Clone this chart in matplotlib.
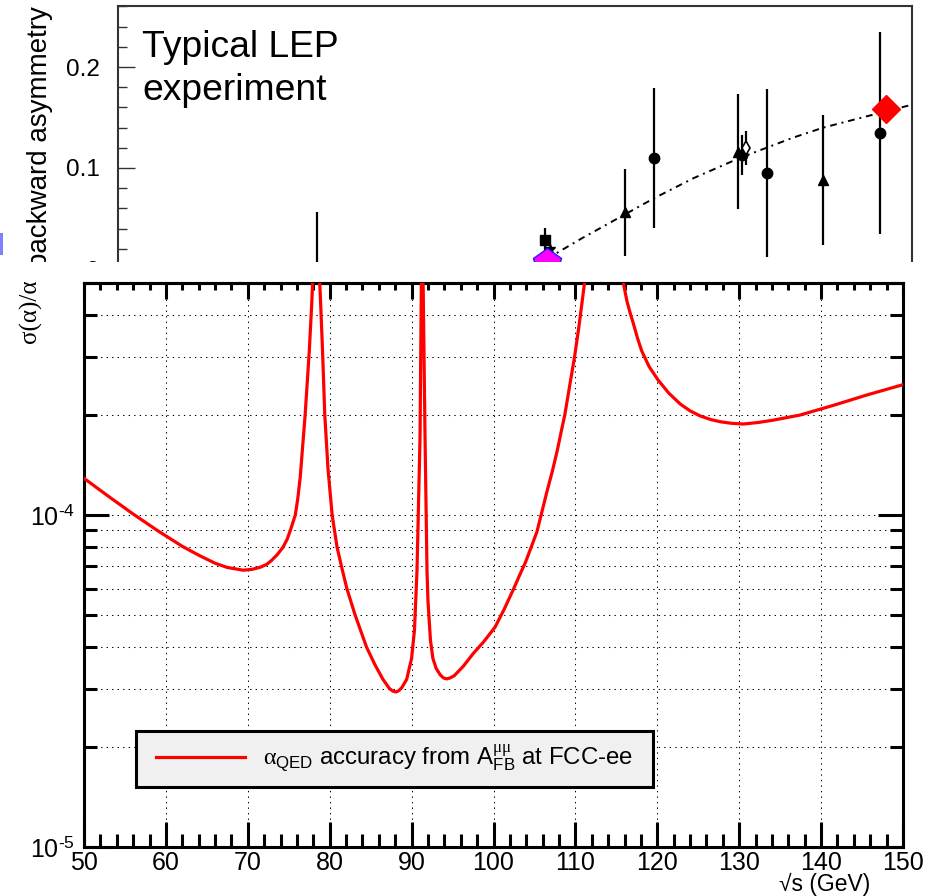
import numpy as np
import matplotlib
matplotlib.use('Agg')
import matplotlib.pyplot as plt
from matplotlib.patches import Rectangle
from matplotlib.lines import Line2D
from matplotlib.legend_handler import HandlerLine2D
from matplotlib.ticker import MultipleLocator, LogLocator, NullFormatter

plt.rcParams['font.family'] = ['Liberation Sans', 'DejaVu Sans']
plt.rcParams['mathtext.fontset'] = 'custom'
plt.rcParams['mathtext.rm'] = 'Liberation Sans'
plt.rcParams['mathtext.it'] = 'Liberation Serif'
plt.rcParams['mathtext.bf'] = 'Liberation Sans:bold'

# ---------------- data: top (LEP) panel ----------------
lep_circle_x = [89.50, 92.05, 92.715, 92.905, 93.76]
lep_circle_y = [-0.020, 0.110, 0.113, 0.095, 0.135]
lep_circle_err = [0.076, 0.069, 0.020, 0.083, 0.100]
lep_tri_x = [91.83, 92.685, 93.33]
lep_tri_y = [0.056, 0.116, 0.088]
lep_tri_err = [0.043, 0.057, 0.064]
lep_sq_x = [91.227]
lep_sq_y = [0.029]
lep_sq_err = [0.012]
lep_star_x = [91.265]
lep_star_y = [0.020]
lep_odiam_x = [92.746]
lep_odiam_y = [0.120]
lep_odiam_err = [0.017]
lep_pent_x = [91.24]
lep_pent_y = [0.006]
lep_red_x = [93.80]
lep_red_y = [0.158]
theory_x = [91.24, 91.50, 91.83, 92.05, 92.35, 92.70, 93.10, 93.33, 93.80, 93.98]
theory_y = [0.010, 0.030, 0.054, 0.070, 0.090, 0.110, 0.130, 0.140, 0.156, 0.162]
top_yticks = [0.0, 0.1, 0.2]
top_yticklabels = ['0', '0.1', '0.2']

# ---------------- data: bottom (FCC-ee) panel ----------------
sqrt_s = [50.0, 53.0, 56.0, 59.0, 62.0, 64.0, 66.0, 67.5, 69.45, 70.5, 71.5, 72.3,
          72.9, 73.6, 74.3, 74.8, 75.2, 75.8, 76.1, 76.4, 77.0, 77.5, 77.8, 78.0,
          78.35, 78.7, 78.9, 79.13, 79.4, 79.8, 80.3, 80.9, 81.5, 82.1, 83.1, 84.5,
          85.5, 86.5, 87.3, 87.7, 88.1, 88.45, 88.8, 89.4, 90.0, 90.35, 90.66, 91.03,
          91.23, 91.35, 91.64, 91.88, 92.0, 92.3, 92.6, 93.0, 93.5, 93.9, 94.3, 94.7,
          95.2, 96.3, 97.5, 98.8, 100.2, 101.3, 102.4, 103.2, 103.9, 104.6, 105.3,
          105.9, 106.5, 107.2, 107.8, 108.3, 108.7, 109.3, 109.9, 110.4, 110.8, 111.2,
          113.5, 115.85, 116.3, 116.7, 117.07, 117.6, 118.1, 119.0, 120.1, 121.4, 122.8,
          124.0, 125.2, 126.5, 127.7, 129.0, 130.5, 132.3, 134.1, 137.4, 141.5, 145.6,
          150.0]
rel_acc = [1.29e-4, 1.138e-4, 1.007e-4, 8.97e-5, 8.05e-5, 7.57e-5, 7.16e-5, 6.95e-5,
           6.82e-5, 6.86e-5, 6.96e-5, 7.1e-5, 7.3e-5, 7.6e-5, 8.0e-5, 8.45e-5, 9.0e-5,
           1.0e-4, 1.12e-4, 1.3e-4, 2.0e-4, 3.1e-4, 4.3e-4, 5.6e-4, 5.1e-4, 5.6e-4,
           4.3e-4, 3.1e-4, 2.0e-4, 1.37e-4, 1.0e-4, 8.0e-5, 6.9e-5, 6.0e-5, 5.0e-5,
           4.0e-5, 3.55e-5, 3.2e-5, 3.0e-5, 2.95e-5, 2.93e-5, 2.96e-5, 3.02e-5, 3.2e-5,
           3.7e-5, 4.5e-5, 6.8e-5, 1.72e-4, 6.5e-4, 6.5e-4, 1.72e-4, 6.8e-5, 5.5e-5,
           4.2e-5, 3.7e-5, 3.45e-5, 3.3e-5, 3.23e-5, 3.21e-5, 3.23e-5, 3.28e-5, 3.5e-5,
           3.82e-5, 4.15e-5, 4.6e-5, 5.2e-5, 5.95e-5, 6.6e-5, 7.2e-5, 8.0e-5, 8.9e-5,
           1.02e-4, 1.17e-4, 1.36e-4, 1.57e-4, 1.8e-4, 2.0e-4, 2.45e-4, 3.0e-4, 3.65e-4,
           4.35e-4, 5.2e-4, 6.0e-4, 5.0e-4, 4.4e-4, 4.05e-4, 3.78e-4, 3.4e-4, 3.12e-4,
           2.8e-4, 2.55e-4, 2.33e-4, 2.16e-4, 2.06e-4, 1.99e-4, 1.94e-4, 1.91e-4, 1.89e-4,
           1.88e-4, 1.9e-4, 1.93e-4, 2.0e-4, 2.14e-4, 2.3e-4, 2.47e-4]
bottom_yticks = [1e-5, 1e-4]
bottom_yticklabels = [r'$10^{\text{-}5}$', r'$10^{\text{-}4}$']
legend_label = r"$\alpha_{\mathrm{QED}}$ accuracy from $\mathrm{A}^{\mu\mu}_{\mathrm{FB}}$ at FCC-ee  "

W, H = 926, 896
fig = plt.figure(figsize=(W / 100, H / 100), dpi=100)

# ================= top panel (partially hidden) =================
axt = fig.add_axes([118 / W, 1 - 319.5 / H, 794 / W, 313.1 / H])
axt.set_zorder(0)
axt.set_xlim(88, 94)
axt.set_ylim(-0.05, 0.26)
for s in axt.spines.values():
    s.set_color('#333333')
    s.set_linewidth(1.5)
axt.set_yticks(top_yticks, labels=top_yticklabels)
axt.yaxis.set_minor_locator(MultipleLocator(0.02))
axt.tick_params(axis='y', which='both', direction='in', left=True, right=False,
                color='#333333', width=1.0, labelsize=17.5, pad=13)
axt.tick_params(axis='y', which='major', length=12.5)
axt.tick_params(axis='y', which='minor', length=6.5)
axt.set_xticks([])

kw = dict(ls='none', ecolor='black', elinewidth=1.6, capsize=0)
axt.errorbar(lep_circle_x, lep_circle_y, yerr=lep_circle_err, fmt='o', ms=7.5,
             color='black', **kw)
axt.errorbar(lep_tri_x, lep_tri_y, yerr=lep_tri_err, fmt='^', ms=7.5, color='black', **kw)
axt.errorbar(lep_sq_x, lep_sq_y, yerr=lep_sq_err, fmt='s', ms=6.5, color='black', **kw)
axt.plot(lep_star_x, lep_star_y, marker='*', ms=7, color='black', ls='none')
axt.errorbar(lep_odiam_x, lep_odiam_y, yerr=lep_odiam_err, fmt='d', ms=7,
             mfc='white', mec='black', mew=1.2, **kw)
axt.plot(theory_x, theory_y, color='black', lw=1.4, ls=(0, (3.5, 2.5, 1, 2.5)), zorder=2)
axt.plot(lep_pent_x, lep_pent_y, marker='p', ms=21, mfc='#ff00ff', mec='#2020ff',
         mew=1.0, ls='none', zorder=4)
axt.plot(lep_red_x, lep_red_y, marker='D', ms=14, color='#ff0000', ls='none', zorder=4)

fig.text(40 / W, 1 - 6 / H, 'backward asymmetry', rotation=90,
         ha='center', va='top', fontsize=20, zorder=0.5)
fig.text(142 / W, 1 - 57 / H, 'Typical LEP', ha='left', va='baseline',
         fontsize=26.8, zorder=0.5)
fig.text(142 / W, 1 - 100 / H, 'experiment', ha='left', va='baseline',
         fontsize=26.8, zorder=0.5)

# ================= cover for bottom panel =================
fig.add_artist(Rectangle((0, 0), 1, 1 - 262 / H, transform=fig.transFigure,
                         facecolor='white', edgecolor='none', zorder=1))
fig.add_artist(Rectangle((0, 1 - 255 / H), 3 / W, 22 / H, transform=fig.transFigure,
                         facecolor='#8080ff', edgecolor='none', zorder=1.5))

# ================= bottom panel =================
ax = fig.add_axes([84 / W, 1 - 847 / H, 819 / W, 564 / H])
ax.set_zorder(2)
ax.set_xlim(50, 150)
ax.set_yscale('log')
ax.set_ylim(1e-5, 5e-4)
ax.plot(sqrt_s, rel_acc, color='#ff0000', lw=2.3, zorder=3, solid_joinstyle='round')

ax.xaxis.set_major_locator(MultipleLocator(10))
ax.xaxis.set_minor_locator(MultipleLocator(2))
ax.set_yticks(bottom_yticks, labels=bottom_yticklabels)
ax.yaxis.set_minor_locator(LogLocator(base=10, subs=np.arange(2, 10)))
ax.yaxis.set_minor_formatter(NullFormatter())

gkw = dict(color='black', lw=0.75, ls=(0, (1.3, 4)))
ax.xaxis.grid(True, which='major', **gkw)
ax.yaxis.grid(True, which='both', **gkw)
ax.set_axisbelow(True)

for s in ax.spines.values():
    s.set_linewidth(2.2)
ax.tick_params(which='both', direction='in', bottom=True, left=True, right=True,
               top=False, width=2.2, labelsize=18)
ax.tick_params(which='major', length=18)
ax.tick_params(which='minor', length=9.4)
ax.tick_params(axis='x', pad=3)
ax.tick_params(axis='y', pad=6.5)

secx = ax.secondary_xaxis('top')
secx.xaxis.set_major_locator(MultipleLocator(10))
secx.xaxis.set_minor_locator(MultipleLocator(2))
secx.tick_params(which='both', direction='in', width=2.2, labeltop=False)
secx.tick_params(which='major', length=11.5)
secx.tick_params(which='minor', length=5)
secx.spines['top'].set_linewidth(2.2)

fig.text(30 / W, 1 - 279 / H, 'σ(α)/α', rotation=90, ha='center', va='top',
         fontsize=18, family=['Liberation Serif', 'DejaVu Serif'], zorder=3)
fig.text(870 / W, 1 - 891 / H, '√s (GeV)', ha='right', va='baseline',
         fontsize=16.5, zorder=3)

handle = Line2D([], [], color='#ff0000', lw=2.3)
leg = ax.legend([handle], [legend_label], loc='upper left',
                bbox_to_anchor=(136 / W, 1 - 731 / H), bbox_transform=fig.transFigure,
                borderaxespad=0, fontsize=17.3, fancybox=False, framealpha=1,
                facecolor='#f0f0f0', edgecolor='black', borderpad=0.52,
                handlelength=4.0, handletextpad=0.76,
                handler_map={Line2D: HandlerLine2D(xpad=0.3)})
leg.get_frame().set_linewidth(2.2)
leg.set_zorder(5)

fig.savefig('out.png', dpi=100)
